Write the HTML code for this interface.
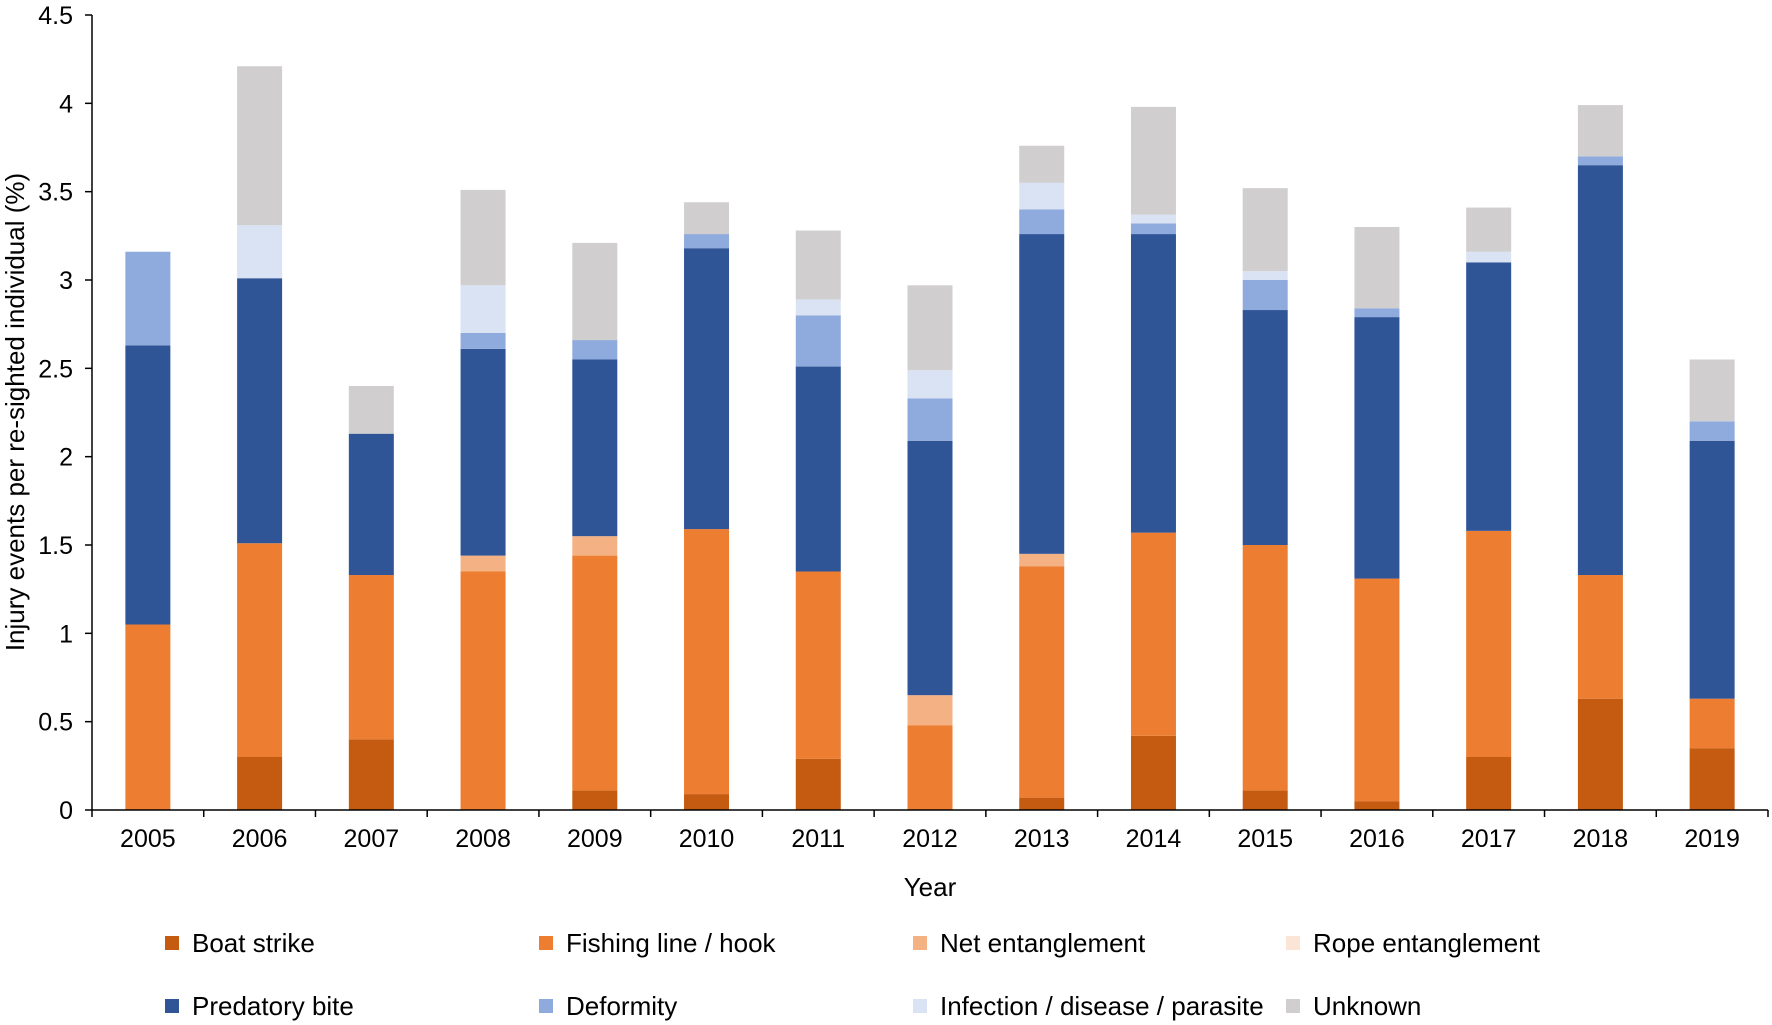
<!DOCTYPE html>
<html><head><meta charset="utf-8"><style>
html,body{margin:0;padding:0;background:#fff}
svg{display:block;font-family:"Liberation Sans",Arial,sans-serif}
</style></head><body>
<svg id="chart" width="1772" height="1025" viewBox="0 0 1772 1025" xmlns="http://www.w3.org/2000/svg">
<g id="bars"></g>
<g id="axes"></g>
<g id="legend"></g>
<text x="930" y="896" font-size="26" text-anchor="middle" fill="#000">Year</text>
<text transform="translate(24,412) rotate(-90)" font-size="26" text-anchor="middle" fill="#000">Injury events per re-sighted individual (%)</text>
</svg>
<script>
const years = ['2005','2006','2007','2008','2009','2010','2011','2012','2013','2014','2015','2016','2017','2018','2019'];
const seriesNames = ['Boat strike','Fishing line / hook','Net entanglement','Rope entanglement','Predatory bite','Deformity','Infection / disease / parasite','Unknown'];
const boatStrike = [0,.30,.40,0,.11,.09,.29,0,.07,.42,.11,.05,.30,.63,.35];
const fishingLine = [1.05,1.21,.93,1.35,1.33,1.50,1.06,.48,1.31,1.15,1.39,1.26,1.28,.70,.28];
const netEntanglement = [0,0,0,.09,.11,0,0,.17,.07,0,0,0,0,0,0];
const ropeEntanglement = [0,0,0,0,0,0,0,0,0,0,0,0,0,0,0];
const predatoryBite = [1.58,1.50,.80,1.17,1.00,1.59,1.16,1.44,1.81,1.69,1.33,1.48,1.52,2.32,1.46];
const deformity = [.53,0,0,.09,.11,.08,.29,.24,.14,.06,.17,.05,0,.05,.11];
const infection = [0,.30,0,.27,0,0,.09,.16,.15,.05,.05,0,.06,0,0];
const unknown = [0,.90,.27,.54,.55,.18,.39,.48,.21,.61,.47,.46,.25,.29,.35];
const yTicks = ['0','0.5','1','1.5','2','2.5','3','3.5','4','4.5'];

const series = [boatStrike,fishingLine,netEntanglement,ropeEntanglement,predatoryBite,deformity,infection,unknown];
const colors = ['#c55a11','#ed7d31','#f4b183','#fbe5d6','#2f5597','#8faadc','#dae3f3','#d0cece'];
const keys = ['boat-strike','fishing-line','net-entanglement','rope-entanglement','predatory-bite','deformity','infection','unknown'];
const NS='http://www.w3.org/2000/svg';
const X0=92,X1=1768,Y0=810,YTOP=15,YMAX=4.5;
const step=(X1-X0)/years.length, bw=45;
const y=v=>Y0-(v/YMAX)*(Y0-YTOP);
const xc=i=>X0+step*(i+0.5);
function mk(tag,attrs){const e=document.createElementNS(NS,tag);for(const k in attrs)e.setAttribute(k,attrs[k]);return e;}
const bars=document.getElementById('bars'),axes=document.getElementById('axes'),legend=document.getElementById('legend');
years.forEach((yr,i)=>{
  let cum=0;
  series.forEach((s,j)=>{
    const v=s[i]; if(!v) return;
    const r=mk('rect',{x:xc(i)-bw/2,y:y(cum+v),width:bw,height:y(cum)-y(cum+v),fill:colors[j]});
    
    
    bars.appendChild(r); cum+=v;
  });
});
let l=mk('line',{x1:X0,y1:YTOP,x2:X0,y2:Y0,stroke:'#000','stroke-width':1.5});


axes.appendChild(l);
l=mk('line',{x1:X0,y1:Y0,x2:X1,y2:Y0,stroke:'#000','stroke-width':1.5});


axes.appendChild(l);
yTicks.forEach(t=>{
  const v=parseFloat(t);
  const tk=mk('line',{x1:X0-7,y1:y(v),x2:X0,y2:y(v),stroke:'#000','stroke-width':1.5});
  
  
  axes.appendChild(tk);
  const tx=mk('text',{x:X0-19,y:y(v)+9,'font-size':25,'text-anchor':'end',fill:'#000'});
  tx.textContent=t;
  
  
  axes.appendChild(tx);
});
for(let i=0;i<=years.length;i++){
  const tk=mk('line',{x1:X0+step*i,y1:Y0,x2:X0+step*i,y2:Y0+7,stroke:'#000','stroke-width':1.5});
  
  
  axes.appendChild(tk);
}
years.forEach((yr,i)=>{
  const tx=mk('text',{x:xc(i),y:847,'font-size':25,'text-anchor':'middle',fill:'#000'});
  tx.textContent=yr;
  
  
  axes.appendChild(tx);
});
const lx=[172,546,920,1293], ly=[943,1006];
seriesNames.forEach((n,j)=>{
  const g=mk('g',{});
  
  
  const X=lx[j%4],Y=ly[Math.floor(j/4)];
  g.appendChild(mk('rect',{x:X-7,y:Y-7,width:14,height:14,fill:colors[j]}));
  const tx=mk('text',{x:X+20,y:Y+9,'font-size':26,fill:'#000'});
  tx.textContent=n;
  g.appendChild(tx);
  legend.appendChild(g);
});
</script>
</body></html>
